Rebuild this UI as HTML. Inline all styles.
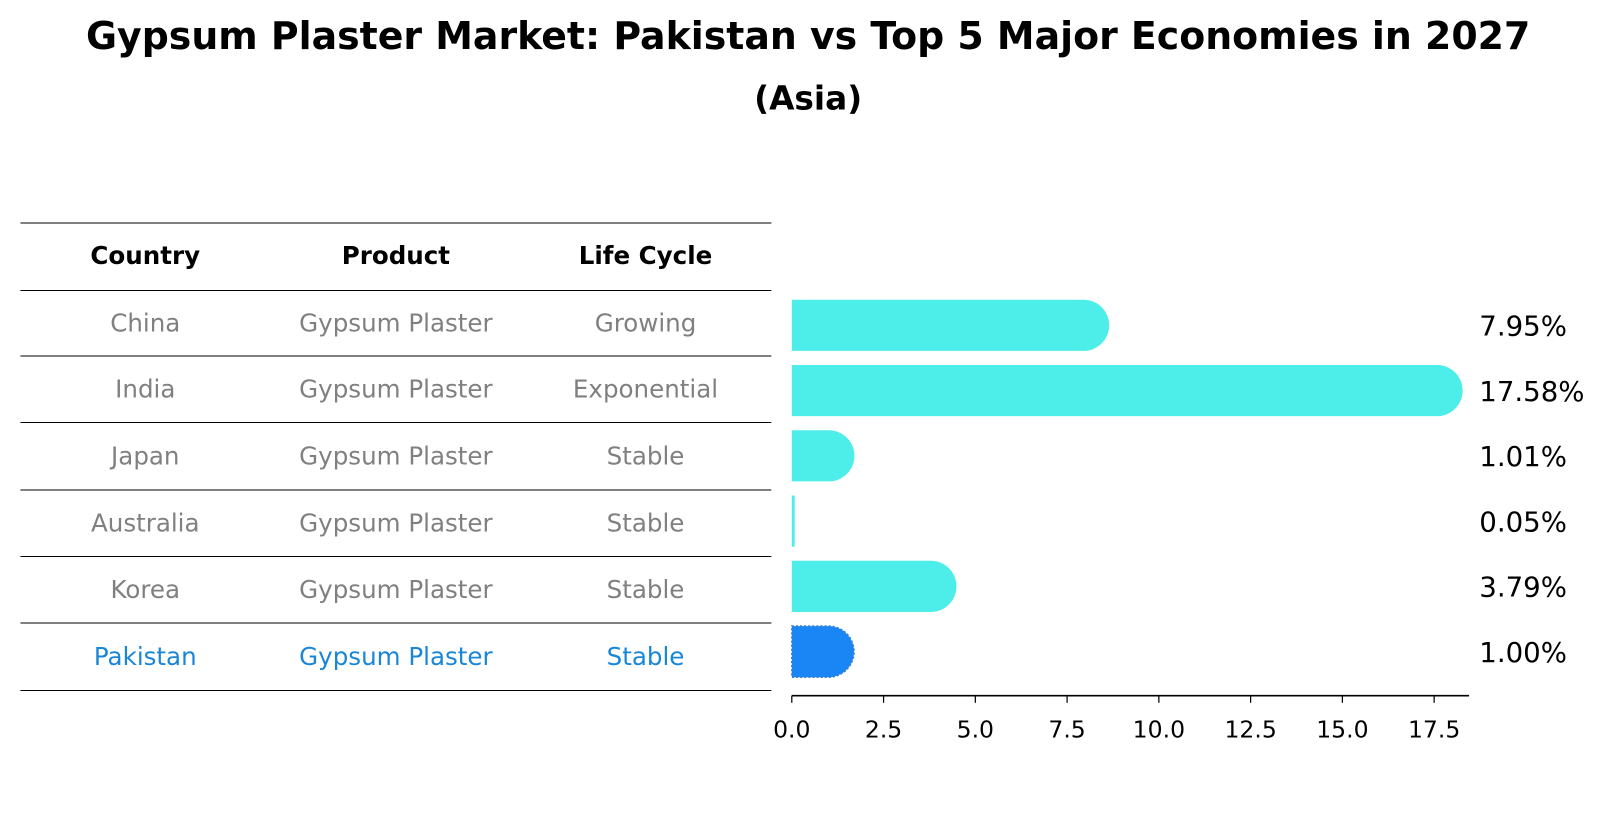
<!DOCTYPE html>
<html><head><meta charset="utf-8"><style>
body{margin:0;background:#fff;font-family:"Liberation Sans","DejaVu Sans",sans-serif}
</style></head><body>
<svg width="1604" height="823" xmlns="http://www.w3.org/2000/svg" font-family="DejaVu Sans, Liberation Sans, sans-serif">
<g transform="scale(1.023)">
<text x="790" y="48" text-anchor="middle" font-size="37" font-weight="bold">Gypsum Plaster Market: Pakistan vs Top 5 Major Economies in 2027</text>
<text x="790" y="107" text-anchor="middle" font-size="32" font-weight="bold">(Asia)</text>
<g id="table"></g>
<g id="bars"></g>
</g>
</svg>
<script>
const countries=["China","India","Japan","Australia","Korea","Pakistan"];
const lifeCycles=["Growing","Exponential","Stable","Stable","Stable","Stable"];
const values=[7.95,17.58,1.01,0.05,3.79,1.00];
const valueLabels=["7.95%","17.58%","1.01%","0.05%","3.79%","1.00%"];
const ticks=[0,2.5,5,7.5,10,12.5,15,17.5];
const tickLabels=["0.0","2.5","5.0","7.5","10.0","12.5","15.0","17.5"];
const NS="http://www.w3.org/2000/svg";
function mk(tag,attrs,parent,txt){const e=document.createElementNS(NS,tag);for(const k in attrs)e.setAttribute(k,attrs[k]);if(txt!==undefined)e.textContent=txt;parent.appendChild(e);return e;}
const x0=774,pxPer=35.88;
const xs=v=>x0+v*pxPer;
const rowY=i=>318+i*63.8;
const tbl=document.getElementById('table');
const lines=[218,284,348,413,479,544,609,675];
lines.forEach(y=>{const l=mk('line',{x1:20,x2:754,y1:y,y2:y,stroke:'#000','stroke-width':1},tbl);

});
const cols=[142,387,631];
["Country","Product","Life Cycle"].forEach((h,j)=>{const t=mk('text',{x:cols[j],y:258,'text-anchor':'middle','font-size':24,'font-weight':'bold'},tbl,h);

});
countries.forEach((c,i)=>{const y=(lines[i+1]+lines[i+2])/2+8;const col=i===5?'#1a86d8':'#808080';
[c,"Gypsum Plaster",lifeCycles[i]].forEach((v,j)=>{const t=mk('text',{x:cols[j],y:y,'text-anchor':'middle','font-size':24,fill:col},tbl,v);

});});
const bars=document.getElementById('bars');
const h=50,r=25;
values.forEach((v,i)=>{const cy=rowY(i);const xe=xs(v);const col=i===5?'#1a86f5':'#4deeea';
let d;
if(v<0.2){d=`M${x0},${cy-h/2}H${xe+1}V${cy+h/2}H${x0}Z`;}
else{d=`M${x0},${cy-h/2}H${xe}A${r},${r} 0 0 1 ${xe},${cy+h/2}H${x0}Z`;}
const p=mk('path',{d:d,fill:col},bars);
if(i===5){p.setAttribute('stroke','#3a7fd0');p.setAttribute('stroke-dasharray','2 2');p.setAttribute('stroke-width','1.5');}


const t=mk('text',{x:1446,y:cy+10,'font-size':27},bars,valueLabels[i]);

});
const ax=mk('line',{x1:x0,x2:1436,y1:680,y2:680,stroke:'#000','stroke-width':1.6},bars);


ticks.forEach((t,i)=>{const tk=mk('line',{x1:xs(t),x2:xs(t),y1:680,y2:687,stroke:'#000','stroke-width':1.2},bars);


const tl=mk('text',{x:xs(t),y:721,'text-anchor':'middle','font-size':23},bars,tickLabels[i]);

});
</script>
</body></html>
